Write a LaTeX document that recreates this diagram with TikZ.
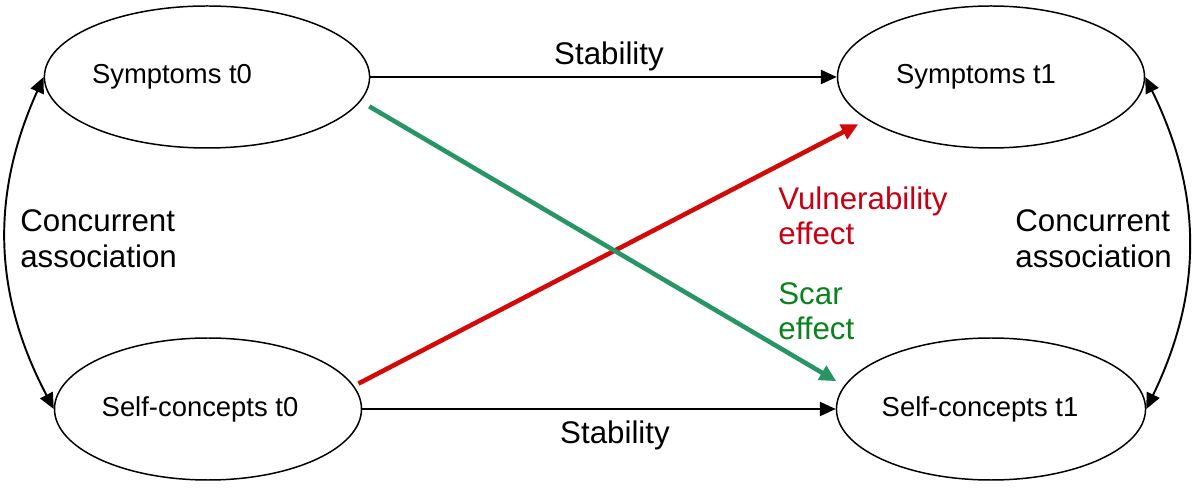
\documentclass[tikz,border=0pt]{standalone}
\usepackage{fontspec}
\setmainfont{Liberation Sans}
\usetikzlibrary{shapes.geometric,arrows.meta}
\definecolor{vulnred}{RGB}{210,10,10}
\definecolor{scargreen}{RGB}{40,150,100}
\definecolor{vulntext}{RGB}{200,0,20}
\definecolor{scartext}{RGB}{10,130,30}

\begin{document}
\begin{tikzpicture}
	\tikzset{var/.style={draw, ellipse, line width=0.85pt, minimum width=6.14cm, minimum height=2.84cm, inner sep=0pt, font=\fontsize{15.6}{18}\selectfont}}
	\tikzset{stab/.style={line width=1.1pt, -{Triangle[length=9pt,width=8pt]}}}
	\tikzset{conc/.style={line width=1.1pt, {Triangle[length=9pt,width=8pt]}-{Triangle[length=9pt,width=8pt]}}}
	\tikzset{eff/.style={line width=2.6pt, -{Triangle[length=9.5pt,width=9pt]}}}
	\tikzset{lab/.style={inner sep=0pt, align=left, font=\fontsize{17.8}{20.3}\selectfont}}

	\useasboundingbox (0,0) rectangle (24,9.76);

	\node[var] (sy0) at (4.14,8.22) {Symptoms t0\hspace*{1.4cm}};
	\node[var] (sc0) at (4.16,1.58) {Self-concepts t0\hspace*{0.32cm}};
	\node[var] (sy1) at (19.82,8.22) {Symptoms t1\hspace*{0.6cm}};
	\node[var] (sc1) at (19.82,1.58) {Self-concepts t1\hspace*{0.44cm}};

	\draw[stab] (sy0.east) -- (sy1.west);
	\draw[stab] (sc0.east) -- (sc1.west);
	\draw[eff, vulnred] (sc0.9) -- (sy1.199) [shorten <=0.1cm, shorten >=0.2cm];
	\draw[eff, scargreen] (sy0.-9) -- (sc1.171) [shorten <=0.2cm, shorten >=0.18cm];
	\draw[conc] (sy0.west) to[bend right=26] (sc0.west);
	\draw[conc] (sy1.east) to[bend left=26] (sc1.east);

	\node[lab, anchor=base] (st1) at (12.18,8.46) {Stability};
	\node[lab, anchor=base] (st2) at (12.30,0.90) {Stability};
	\node[lab, anchor=west] (ca0) at (0.40,4.99) {Concurrent\\association};
	\node[lab, anchor=west] (ca1) at (20.30,4.99) {Concurrent\\association};
	\node[lab, anchor=north west, text=vulntext] (vu) at (15.56,6.04) {Vulnerability\\effect};
	\node[lab, anchor=north west, text=scartext] (sc) at (15.56,4.12) {Scar\\effect};
\end{tikzpicture}
\end{document}
